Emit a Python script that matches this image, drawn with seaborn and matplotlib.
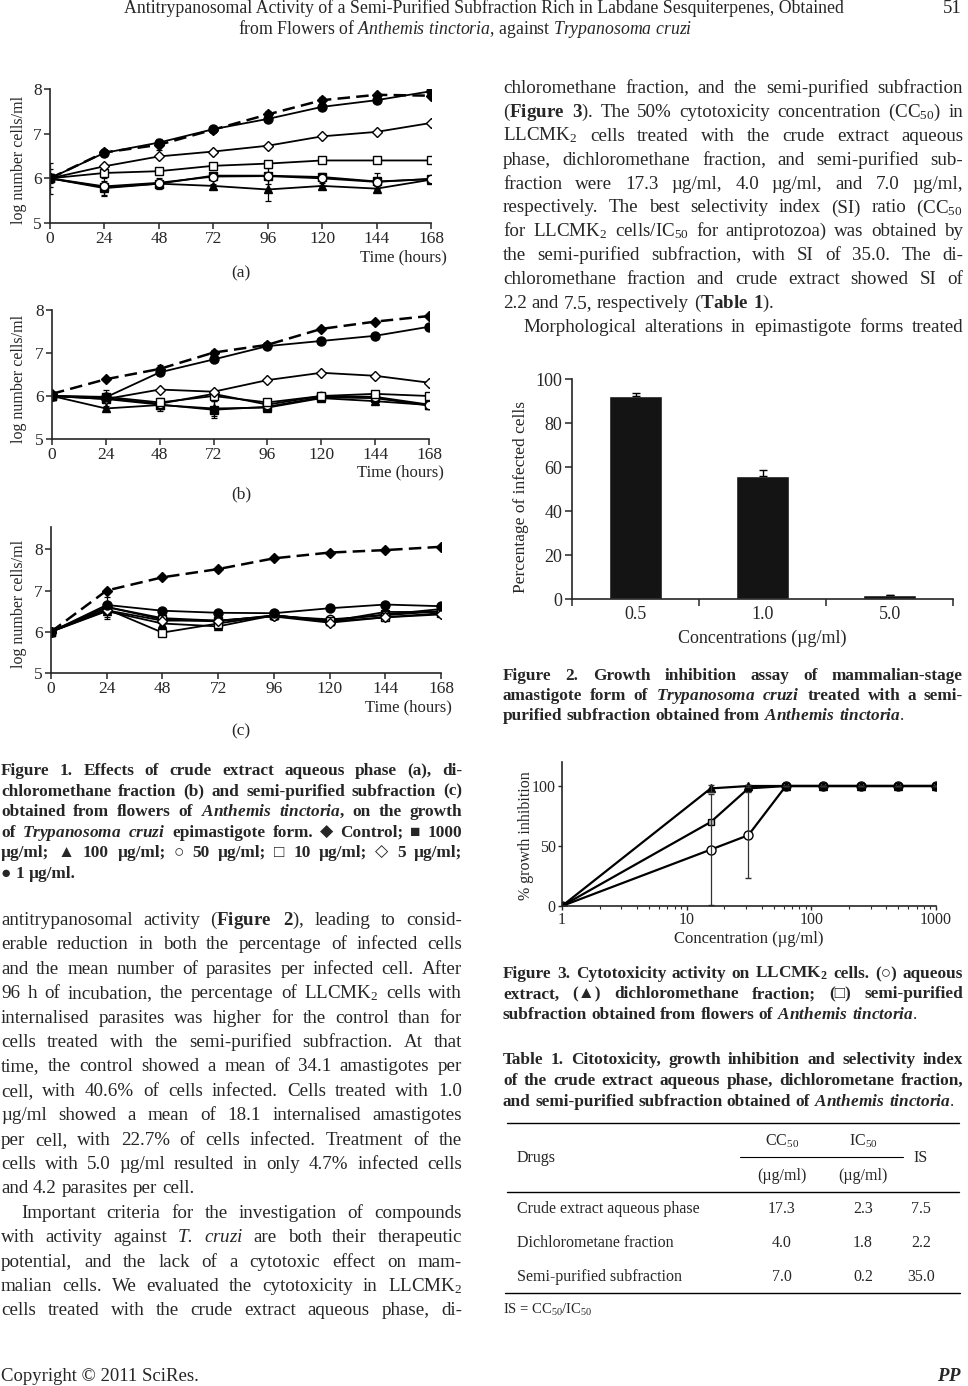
import numpy as np
import pandas as pd
import matplotlib
matplotlib.use('Agg')
import matplotlib.pyplot as plt
import seaborn as sns
from matplotlib.lines import Line2D

sns.set_style('ticks')
plt.rcParams['font.family'] = ['Liberation Serif', 'DejaVu Sans']
plt.rcParams.update({'mathtext.fontset': 'custom',
                     'mathtext.rm': 'Liberation Serif',
                     'mathtext.bf': 'Liberation Serif:bold',
                     'mathtext.it': 'Liberation Serif:italic:bold',
                     'mathtext.sf': 'Liberation Serif:italic',
                     'axes.linewidth': 1.2})

# ---- Figure 1 data: log number cells/ml vs time ----
hours = [0, 24, 48, 72, 96, 120, 144, 168]
doses = ['Control', '1000', '100', '50', '10', '5', '1']

a_control = [6.0, 6.58, 6.75, 7.09, 7.43, 7.75, 7.87, 7.85]
a_1000 = [6.0, 5.80, 5.88, 6.06, 6.06, 6.03, 5.93, 5.98]
a_100 = [6.0, 5.78, 5.88, 5.83, 5.75, 5.83, 5.77, 5.97]
a_50 = [6.0, 5.82, 5.90, 6.04, 6.05, 6.00, 5.92, 5.99]
a_10 = [6.0, 6.12, 6.16, 6.28, 6.33, 6.40, 6.40, 6.40]
a_5 = [6.0, 6.27, 6.49, 6.60, 6.73, 6.94, 7.04, 7.24]
a_1 = [6.0, 6.57, 6.80, 7.10, 7.33, 7.60, 7.75, 7.95]
a_sd_control = [0.10, 0.03, 0.12, 0.04, 0.08, 0.06, 0.04, 0.03]
a_sd_1000 = [0.35, 0.20, 0.08, 0.05, 0.18, 0.08, 0.18, 0.03]
a_sd_100 = [0.20, 0.15, 0.12, 0.05, 0.25, 0.07, 0.05, 0.03]

b_control = [6.05, 6.39, 6.63, 7.01, 7.19, 7.56, 7.73, 7.86]
b_1000 = [6.0, 5.93, 5.80, 5.68, 5.75, 5.97, 5.95, 5.78]
b_100 = [6.0, 5.71, 5.79, 5.71, 5.73, 5.95, 5.88, 5.79]
b_50 = [6.0, 5.95, 5.82, 6.05, 5.80, 6.00, 5.98, 5.80]
b_10 = [6.0, 5.98, 5.85, 6.00, 5.85, 6.00, 6.05, 6.00]
b_5 = [6.0, 5.93, 6.15, 6.10, 6.37, 6.54, 6.47, 6.31]
b_1 = [6.0, 5.97, 6.55, 6.85, 7.16, 7.28, 7.40, 7.61]
b_sd_control = [0.05, 0.04, 0.08, 0.05, 0.05, 0.04, 0.04, 0.03]
b_sd_1000 = [0.08, 0.20, 0.15, 0.20, 0.10, 0.08, 0.05, 0.03]
b_sd_100 = [0.05, 0.05, 0.05, 0.18, 0.08, 0.05, 0.05, 0.03]

c_control = [6.0, 7.00, 7.32, 7.52, 7.78, 7.92, 7.98, 8.06]
c_1000 = [6.0, 6.60, 6.30, 6.25, 6.40, 6.27, 6.42, 6.55]
c_100 = [6.0, 6.50, 6.20, 6.13, 6.40, 6.25, 6.48, 6.48]
c_50 = [6.0, 6.60, 6.33, 6.27, 6.38, 6.30, 6.40, 6.50]
c_10 = [6.0, 6.55, 5.98, 6.20, 6.40, 6.25, 6.35, 6.45]
c_5 = [6.0, 6.52, 6.27, 6.27, 6.37, 6.22, 6.35, 6.42]
c_1 = [6.0, 6.65, 6.51, 6.46, 6.45, 6.57, 6.66, 6.62]
c_sd_control = [0.05, 0.04, 0.04, 0.04, 0.05, 0.04, 0.04, 0.04]
c_sd_1000 = [0.10, 0.25, 0.05, 0.05, 0.05, 0.05, 0.05, 0.05]
c_sd_100 = [0.08, 0.20, 0.08, 0.05, 0.05, 0.05, 0.05, 0.05]

# ---- Figure 2 data ----
conc2 = ['0.5', '1.0', '5.0']
infected = [92.3, 56.1, 1.7]
infected_sd = [1.5, 2.5, 0.0]

# ---- Figure 3 data ----
conc3 = [1, 15.6, 31.25, 62.5, 125, 250, 500, 1000]
inhib_aqueous = [0, 47, 59, 100, 100, 100, 100, 100]
inhib_dcm = [0, 98, 100, 100, 100, 100, 100, 100]
inhib_semi = [0, 70, 98, 100, 100, 100, 100, 100]
sd_aqueous = [0, 46, 36, 0, 0, 0, 0, 0]
sd_dcm = [0, 3, 1, 0, 0, 0, 0, 0]

# ---- Table 1 ----
drugs = ['Crude extract aqueous phase', 'Dichlorometane fraction', 'Semi-purified subfraction']
cc50 = [17.3, 4.0, 7.0]
ic50 = [2.3, 1.8, 0.2]
si = [7.5, 2.2, 35.0]

W, H = 968, 1386
fig = plt.figure(figsize=(W / 100, H / 100), dpi=100)
rend = fig.canvas.get_renderer()


def T(x, y, s, **kw):
    kw.setdefault('va', 'baseline')
    return fig.text(x / W, 1 - y / H, s, **kw)


def hline(x0, x1, y, lw=1.0):
    fig.add_artist(Line2D([x0 / W, x1 / W], [1 - y / H, 1 - y / H], color='black',
                          lw=lw, transform=fig.transFigure))


def add_ax(l, t, r, b):
    return fig.add_axes([l / W, 1 - b / H, (r - l) / W, (b - t) / H])


def para(lines, x0, x1, y0, pitch, size, weight='normal', last=(), indent=()):
    # justified text, word by word
    for i, line in enumerate(lines):
        y = y0 + i * pitch
        left = x0 + (20 if i in indent else 0)
        words = line.split()
        arts = [T(0, y, w, size=size, weight=weight) for w in words]
        widths = [a.get_window_extent(rend).width for a in arts]
        space = size * 0.25 * 100 / 72
        if i in last or len(words) == 1:
            gap = space
        else:
            gap = (x1 - left - sum(widths)) / (len(words) - 1)
            if gap < 0.6 * space:
                # too long for the column: shrink the line a little
                k = (x1 - left - 0.6 * space * (len(words) - 1)) / sum(widths)
                for a in arts:
                    a.set_fontsize(size * k)
                widths = [w * k for w in widths]
                gap = 0.6 * space
        x = left
        for a, w in zip(arts, widths):
            a.set_x(x / W)
            x += w + gap


# header
T(484, 13, 'Antitrypanosomal Activity of a Semi-Purified Subfraction Rich in Labdane Sesquiterpenes, Obtained',
  size=12.8, ha='center')
T(465, 34, 'from Flowers of $\\mathsf{Anthemis\\ tinctoria}$, against $\\mathsf{Trypanosoma\\ cruzi}$',
  size=12.8, ha='center')
T(962, 13, '51', size=13.5, ha='right')

# ---- Figure 1 panels ----
styles = {
    'Control': dict(marker='D', markerfacecolor='black', markersize=5, linestyle=(0, (5, 2.5)), linewidth=1.8),
    '1000': dict(marker='s', markerfacecolor='black', markersize=6, linestyle='-', linewidth=1.3),
    '100': dict(marker='^', markerfacecolor='black', markersize=6, linestyle='-', linewidth=1.3),
    '50': dict(marker='o', markerfacecolor='white', markersize=6, linestyle='-', linewidth=1.3),
    '10': dict(marker='s', markerfacecolor='white', markersize=6, linestyle='-', linewidth=1.3),
    '5': dict(marker='D', markerfacecolor='white', markersize=5, linestyle='-', linewidth=1.3),
    '1': dict(marker='o', markerfacecolor='black', markersize=6.5, linestyle='-', linewidth=1.3),
}

panels = [
    ('a', [a_control, a_1000, a_100, a_50, a_10, a_5, a_1],
     {'Control': a_sd_control, '1000': a_sd_1000, '100': a_sd_100}, (50, 89, 431, 223), 8.0, 241, 277, 447, 257),
    ('b', [b_control, b_1000, b_100, b_50, b_10, b_5, b_1],
     {'Control': b_sd_control, '1000': b_sd_1000, '100': b_sd_100}, (52, 310, 429, 439), 8.0, 241, 498, 444, 472),
    ('c', [c_control, c_1000, c_100, c_50, c_10, c_5, c_1],
     {'Control': c_sd_control, '1000': c_sd_1000, '100': c_sd_100}, (51, 527, 441, 673), 8.54, 241, 735, 452, 707),
]

for name, series, sds, box, ytop, lx, ly, tx, ty in panels:
    df = pd.DataFrame({'hours': hours * len(doses),
                       'log': sum(series, []),
                       'dose': np.repeat(doses, len(hours))})
    ax = add_ax(*box)
    for dose in doses:
        sub = df[df.dose == dose]
        sns.lineplot(data=sub, x='hours', y='log', ax=ax, color='black', legend=False,
                     markeredgecolor='black', markeredgewidth=1.0, **styles[dose])
        if dose in sds:
            ax.errorbar(sub['hours'], sub['log'], yerr=sds[dose], fmt='none', ecolor='black',
                        elinewidth=0.9, capsize=2.5, capthick=0.9)
    ax.set_xlim(0, 168)
    ax.set_ylim(5, ytop)
    ax.set_xticks(hours)
    ax.set_yticks([5, 6, 7, 8])
    ax.set_xlabel('')
    ax.set_ylabel('')
    ax.tick_params(labelsize=12.5, length=4, width=1.1, pad=2)
    sns.despine(ax=ax)
    ax.text((tx - box[0]) / (box[2] - box[0]), -(ty - box[3]) / (box[3] - box[1]), 'Time (hours)',
            transform=ax.transAxes, ha='right', va='center', size=12)
    T(19, (box[1] + box[3]) / 2 + 4, 'log number cells/ml', rotation=90, ha='center', va='center', size=11.5)
    T(lx, ly, '(%s)' % name, ha='center', size=12.5)

fig1_caption = [
    "Figure 1. Effects of crude extract aqueous phase (a), di-",
    "chloromethane fraction (b) and semi-purified subfraction (c)",
    "obtained from flowers of $\\mathit{Anthemis}$ $\\mathit{tinctoria}$, on the growth",
    "of $\\mathit{Trypanosoma}$ $\\mathit{cruzi}$ epimastigote form. ◆ Control; ■ 1000",
    "µg/ml; ▲ 100 µg/ml; ○ 50 µg/ml; □ 10 µg/ml; ◇ 5 µg/ml;",
    "● 1 µg/ml.",
]
para(fig1_caption, 1, 462, 775, 20.6, 12.4, weight='bold', last={5})

left_body = [
    "antitrypanosomal activity ($\\mathbf{Figure}$ $\\mathbf{2}$), leading to consid-",
    "erable reduction in both the percentage of infected cells",
    "and the mean number of parasites per infected cell. After",
    "96 h of incubation, the percentage of LLCMK$_2$ cells with",
    "internalised parasites was higher for the control than for",
    "cells treated with the semi-purified subfraction. At that",
    "time, the control showed a mean of 34.1 amastigotes per",
    "cell, with 40.6% of cells infected. Cells treated with 1.0",
    "µg/ml showed a mean of 18.1 internalised amastigotes",
    "per cell, with 22.7% of cells infected. Treatment of the",
    "cells with 5.0 µg/ml resulted in only 4.7% infected cells",
    "and 4.2 parasites per cell.",
    "Important criteria for the investigation of compounds",
    "with activity against $\\mathsf{T.}$ $\\mathsf{cruzi}$ are both their therapeutic",
    "potential, and the lack of a cytotoxic effect on mam-",
    "malian cells. We evaluated the cytotoxicity in LLCMK$_2$",
    "cells treated with the crude extract aqueous phase, di-",
]
para(left_body, 1, 462, 925, 24.4, 13.7, last={11}, indent={12})

T(1, 1381, 'Copyright © 2011 SciRes.', size=13.5)
T(962, 1381, '$\\mathit{PP}$', size=13.5, ha='right', weight='bold')

right_body = [
    "chloromethane fraction, and the semi-purified subfraction",
    "($\\mathbf{Figure}$ $\\mathbf{3}$). The 50% cytotoxicity concentration (CC$_{50}$) in",
    "LLCMK$_2$ cells treated with the crude extract aqueous",
    "phase, dichloromethane fraction, and semi-purified sub-",
    "fraction were 17.3 µg/ml, 4.0 µg/ml, and 7.0 µg/ml,",
    "respectively. The best selectivity index (SI) ratio (CC$_{50}$",
    "for LLCMK$_2$ cells/IC$_{50}$ for antiprotozoa) was obtained by",
    "the semi-purified subfraction, with SI of 35.0. The di-",
    "chloromethane fraction and crude extract showed SI of",
    "2.2 and 7.5, respectively ($\\mathbf{Table}$ $\\mathbf{1}$).",
    "Morphological alterations in epimastigote forms treated",
]
para(right_body, 503, 963, 93, 23.9, 13.7, last={9}, indent={10})

# ---- Figure 2: bar chart ----
ax2 = add_ax(572, 379, 953, 599)
sns.barplot(x=conc2, y=infected, color='#141414', saturation=1, width=0.42, ax=ax2)
ax2.errorbar(range(len(conc2)), infected, yerr=[[0] * len(conc2), infected_sd], fmt='none',
             ecolor='black', elinewidth=1.0, capsize=3, capthick=1.0)
ax2.set_xlim(-0.5, 2.5)
ax2.set_ylim(0, 100)
ax2.set_yticks([0, 20, 40, 60, 80, 100])
ax2.set_xticks([-0.5, 0.5, 1.5, 2.5], minor=True)
ax2.tick_params(axis='x', which='major', length=0, pad=5, labelsize=13)
ax2.tick_params(axis='x', which='minor', length=5, width=1.1)
ax2.tick_params(axis='y', length=5, width=1.1, labelsize=13, pad=2)
ax2.set_xlabel('')
ax2.set_ylabel('')
sns.despine(ax=ax2)
T(521, 497, 'Percentage of infected cells', rotation=90, ha='center', va='center', size=12.5)
T(762, 638, 'Concentrations (µg/ml)', ha='center', va='center', size=13)

fig2_caption = [
    "Figure 2. Growth inhibition assay of mammalian-stage",
    "amastigote form of $\\mathit{Trypanosoma}$ $\\mathit{cruzi}$ treated with a semi-",
    "purified subfraction obtained from $\\mathit{Anthemis}$ $\\mathit{tinctoria.}$",
]
para(fig2_caption, 503, 963, 680, 19.8, 12.4, weight='bold', last={2})

# ---- Figure 3: cytotoxicity ----
ax3 = add_ax(562, 762, 936, 906)
df3 = pd.DataFrame({'conc': conc3 * 3,
                    'inhib': inhib_aqueous + inhib_dcm + inhib_semi,
                    'fraction': np.repeat(['aqueous', 'dcm', 'semi'], len(conc3))})
fstyle = {'aqueous': dict(marker='o', markerfacecolor='white', markersize=6.5),
          'dcm': dict(marker='^', markerfacecolor='black', markersize=5.5),
          'semi': dict(marker='s', markerfacecolor='#bbbbbb', markersize=5)}
for frac in ['aqueous', 'semi', 'dcm']:
    sub = df3[df3.fraction == frac]
    sns.lineplot(data=sub, x='conc', y='inhib', ax=ax3, color='black', linewidth=1.6, legend=False,
                 markeredgecolor='black', markeredgewidth=1.0, **fstyle[frac])
ax3.errorbar(conc3, inhib_aqueous, yerr=sd_aqueous, fmt='none', ecolor='#333333', elinewidth=0.9, capsize=2.5)
ax3.errorbar(conc3, inhib_dcm, yerr=sd_dcm, fmt='none', ecolor='#333333', elinewidth=0.9, capsize=2.5)
ax3.set_xscale('log')
ax3.set_xlim(1, 1000)
ax3.set_ylim(0, 120)
ax3.set_yticks([0, 50, 100])
ax3.set_xticks([1, 10, 100, 1000], labels=['1', '10', '100', '1000'])
ax3.tick_params(which='major', length=3, width=1.0, labelsize=11.5, pad=1.5)
ax3.tick_params(which='minor', length=2.5, width=0.8)
ax3.set_xlabel('')
ax3.set_ylabel('')
sns.despine(ax=ax3)
T(526, 836, '% growth inhibition', rotation=90, ha='center', va='center', size=11.5)
T(749, 939, 'Concentration (µg/ml)', ha='center', va='center', size=12)

fig3_caption = [
    "Figure 3. Cytotoxicity activity on LLCMK$_{\\mathbf{2}}$ cells. (○) aqueous",
    "extract, (▲) dichloromethane fraction; (□) semi-purified",
    "subfraction obtained from flowers of $\\mathit{Anthemis}$ $\\mathit{tinctoria.}$",
]
para(fig3_caption, 503, 963, 978, 20.4, 12.4, weight='bold', last={2})

table_caption = [
    "Table 1. Citotoxicity, growth inhibition and selectivity index",
    "of the crude extract aqueous phase, dichlorometane fraction,",
    "and semi-purified subfraction obtained of $\\mathit{Anthemis}$ $\\mathit{tinctoria.}$",
]
para(table_caption, 503, 963, 1064, 20.8, 12.4, weight='bold', last={2})

# ---- Table 1 ----
hline(507, 959, 1123)
hline(740, 903, 1157, lw=0.8)
hline(507, 959, 1192)
hline(505, 960, 1293)
T(517, 1162, 'Drugs', size=11.5)
T(782, 1146, 'CC$_{50}$', size=11.5, ha='center')
T(863, 1146, 'IC$_{50}$', size=11.5, ha='center')
T(921, 1162, 'IS', size=11.5, ha='center')
T(782, 1180, '(µg/ml)', size=11.5, ha='center')
T(863, 1180, '(µg/ml)', size=11.5, ha='center')
for i, drug in enumerate(drugs):
    y = 1213 + i * 33.8
    T(517, y, drug, size=11.5)
    T(782, y, f'{cc50[i]:.1f}', size=11.5, ha='center')
    T(863, y, f'{ic50[i]:.1f}', size=11.5, ha='center')
    T(921, y, f'{si[i]:.1f}', size=11.5, ha='center')
T(503, 1314, 'IS = CC$_{50}$/IC$_{50}$', size=10.5)

fig.savefig('out.png', dpi=100)
